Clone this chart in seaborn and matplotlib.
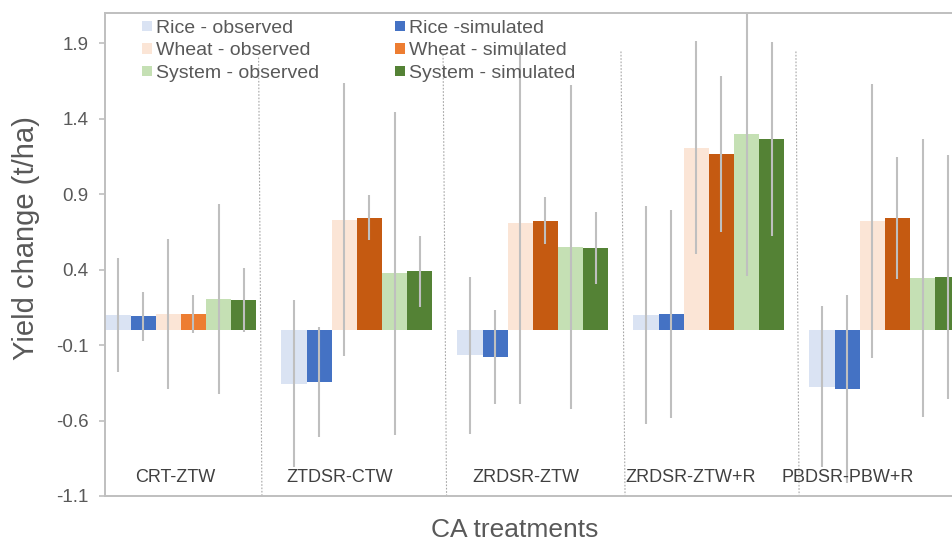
import matplotlib
matplotlib.use("Agg")
import matplotlib.pyplot as plt
from matplotlib.patches import Patch
import pandas as pd
import seaborn as sns

# Treatments and series
treatments = ["CRT-ZTW", "ZTDSR-CTW", "ZRDSR-ZTW", "ZRDSR-ZTW+R", "PBDSR-PBW+R"]
series = ["Rice - observed", "Rice -simulated", "Wheat - observed",
          "Wheat - simulated", "System - observed", "System - simulated"]

# Mean yield change (t/ha) per treatment
rice_obs = [0.10, -0.355, -0.166, 0.10, -0.376]
rice_sim = [0.09, -0.347, -0.177, 0.104, -0.391]
wheat_obs = [0.106, 0.73, 0.71, 1.208, 0.723]
wheat_sim = [0.106, 0.743, 0.725, 1.166, 0.742]
system_obs = [0.205, 0.377, 0.55, 1.298, 0.344]
system_sim = [0.199, 0.39, 0.543, 1.265, 0.351]

# Standard deviations (t/ha)
rice_obs_sd = [0.38, 0.556, 0.52, 0.72, 0.535]
rice_sim_sd = [0.16, 0.365, 0.312, 0.69, 0.625]
wheat_obs_sd = [0.50, 0.905, 1.20, 0.704, 0.908]
wheat_sim_sd = [0.125, 0.15, 0.153, 0.515, 0.404]
system_obs_sd = [0.63, 1.07, 1.072, 0.94, 0.923]
system_sim_sd = [0.21, 0.235, 0.236, 0.64, 0.806]

y_ticks = [-1.1, -0.6, -0.1, 0.4, 0.9, 1.4, 1.9]

means = dict(zip(series, [rice_obs, rice_sim, wheat_obs, wheat_sim, system_obs, system_sim]))
sds = dict(zip(series, [rice_obs_sd, rice_sim_sd, wheat_obs_sd, wheat_sim_sd,
                        system_obs_sd, system_sim_sd]))

rows = []
for s in series:
    for t, v, e in zip(treatments, means[s], sds[s]):
        rows.append({"treatment": t, "series": s, "change": v, "sd": e})
df = pd.DataFrame(rows)

palette = {
    "Rice - observed": "#DAE3F3",
    "Rice -simulated": "#4472C4",
    "Wheat - observed": "#FBE5D6",
    "Wheat - simulated": "#ED7D31",
    "System - observed": "#C5E0B4",
    "System - simulated": "#548235",
}
wheat_sim_dark = "#C55A11"

sns.set_theme(style="white")
plt.rcParams["font.family"] = ["Liberation Sans", "DejaVu Sans"]
plt.rcParams["axes.unicode_minus"] = False

W, H = 952, 543
fig = plt.figure(figsize=(W / 100, H / 100), dpi=100)
ax_left, ax_bottom, ax_top = 105, 496, 13
x_lo, x_hi = -0.4307, 4.5
px_per_cat = 176.0
ax_w = (x_hi - x_lo) * px_per_cat
ax = fig.add_axes([ax_left / W, (H - ax_bottom) / H, ax_w / W, (ax_bottom - ax_top) / H])

sns.barplot(data=df, x="treatment", y="change", hue="series", order=treatments,
            hue_order=series, palette=palette, width=6 / 7, gap=0, saturation=1,
            errorbar=None, linewidth=0, legend=False, ax=ax, zorder=2)

# Error bars at bar centres
for j, s in enumerate(series):
    patches = sorted(ax.containers[j], key=lambda p: p.get_x())
    xs = [p.get_x() + p.get_width() / 2 for p in patches]
    ax.errorbar(xs, df.loc[df.series == s, "change"], yerr=df.loc[df.series == s, "sd"],
                fmt="none", ecolor="#BFBFBF", elinewidth=1.5, capsize=0, zorder=3)
    if s == "Wheat - simulated":
        for p in patches[1:]:
            p.set_facecolor(wheat_sim_dark)

ax.set_xlim(x_lo, x_hi)
ax.set_ylim(-1.1, 2.1)
ax.set_yticks(y_ticks)
ax.set_yticklabels([f"{v:.1f}" for v in y_ticks])
ax.tick_params(axis="y", colors="#BFBFBF", labelcolor="#595959", labelsize=13.5,
               length=4, width=1.2, pad=8, left=True)
ax.tick_params(axis="x", bottom=False, labelbottom=False)

for side in ["top", "left", "bottom", "right"]:
    ax.spines[side].set_color("#BFBFBF")
    ax.spines[side].set_linewidth(1.4)

# Dotted separators between treatment groups
sep_top_x = [0.442, 1.490, 2.501, 3.495]
sep_bot_x = [0.461, 1.510, 2.524, 3.513]
sep_top_y = [1.805, 1.825, 1.845, 1.845]
for xt, xb, yt in zip(sep_top_x, sep_bot_x, sep_top_y):
    ax.plot([xt, xb], [yt, -1.1], color="#A6A6A6", lw=0.8, ls=(0, (1.5, 1.5)), zorder=1)

# Treatment names inside the plot area
label_dx = [-0.033, -0.095, -0.039, -0.101, -0.209]
for i, (t, dx) in enumerate(zip(treatments, label_dx)):
    ax.text(i + dx, -1.005, t, ha="center", va="baseline", fontsize=13, color="#404040")

ax.set_ylabel("Yield change (t/ha)", fontsize=21, color="#595959")
ax.yaxis.label.set_verticalalignment("center")
ax.yaxis.set_label_coords((26 - ax_left) / ax_w, (ax_bottom - 238) / (ax_bottom - ax_top))
ax.set_xlabel("CA treatments", fontsize=19, color="#595959")
ax.xaxis.label.set_verticalalignment("baseline")
ax.xaxis.set_label_coords((515 - ax_left) / ax_w, (ax_bottom - 537) / (ax_bottom - ax_top))

order = [0, 2, 4, 1, 3, 5]
handles = [Patch(facecolor=palette[series[k]], edgecolor="none") for k in order]
labels = [series[k] for k in order]
leg = fig.legend(handles, labels, ncol=2, loc="upper left",
                 bbox_to_anchor=(142 / W, 1 - 20 / H), frameon=False, fontsize=14,
                 handlelength=0.52, handleheight=0.45, handletextpad=0.2,
                 labelspacing=0.28, columnspacing=3.9, borderpad=0, borderaxespad=0)
for txt in leg.get_texts():
    txt.set_color("#595959")

fig.savefig("out.png", dpi=100, facecolor="white")
